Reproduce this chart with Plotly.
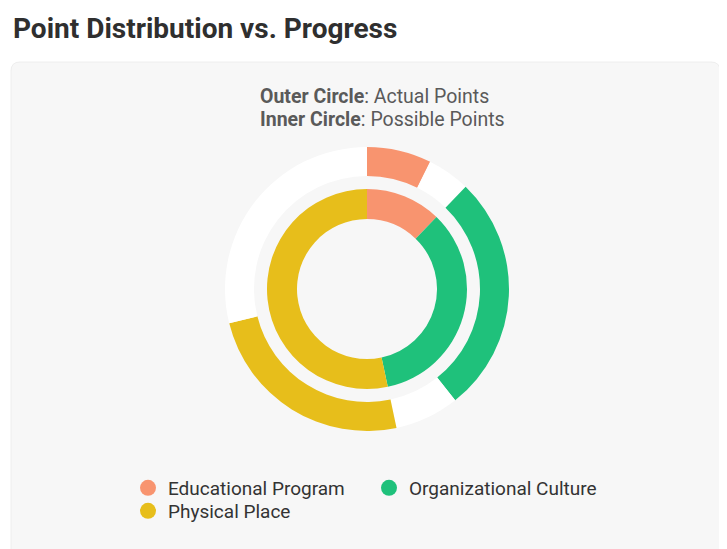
import plotly.graph_objects as go

# ---- data ----
categories = ["Educational Program", "Organizational Culture", "Physical Place"]
possible_points = [11, 31, 48]
actual_points = [6.6, 24.4, 22]
colors = ["#F8946F", "#1FC17B", "#E7BE1B"]
legend_rows = ["legend", "legend", "legend2"]

OFF = 8                     # page body margin
W, H = 727 - OFF, 549 - OFF

def px(x):
    return (x - OFF) / W

def py(y):
    return 1 - (y - OFF) / H

cx, cy = 367, 289          # ring center (screen px)
r_out, r_out_in = 142, 113
r_in, r_in_in = 100, 70

def dom(r):
    return dict(x=[px(cx - r), px(cx + r)], y=[py(cy + r), py(cy - r)])

# outer ring: actual + remainder per category
outer_vals, outer_cols, outer_labels = [], [], []
for c, a, p, col in zip(categories, actual_points, possible_points, colors):
    outer_vals += [a, p - a]
    outer_cols += [col, "#FFFFFF"]
    outer_labels += [c + " (actual)", c + " (remaining)"]

fig = go.Figure()
fig.add_trace(go.Pie(values=outer_vals, labels=outer_labels, marker=dict(colors=outer_cols),
                     sort=False, direction="clockwise", rotation=0, hole=r_out_in / r_out,
                     textinfo="none", showlegend=False, domain=dom(r_out), hoverinfo="label+value"))
fig.add_trace(go.Pie(values=possible_points, labels=categories, marker=dict(colors=colors),
                     sort=False, direction="clockwise", rotation=0, hole=r_in_in / r_in,
                     textinfo="none", showlegend=False, domain=dom(r_in), hoverinfo="label+value"))

for c, col, lg in zip(categories, colors, legend_rows):
    fig.add_trace(go.Scatter(x=[None], y=[None], mode="markers", name=c, legend=lg,
                             marker=dict(symbol="circle", size=19, color=col)))

# card with rounded corners
x0, x1, y0, y1 = px(11), px(720), py(62), -0.05
rx = 9 / W; ry = 9 / H
card = (f"M {x0+rx},{y0} L {x1-rx},{y0} Q {x1},{y0} {x1},{y0-ry} "
        f"L {x1},{y1} L {x0},{y1} L {x0},{y0-ry} Q {x0},{y0} {x0+rx},{y0} Z")

legend_common = dict(orientation="h", xanchor="left", yanchor="top",
                     entrywidth=196, entrywidthmode="pixels", bgcolor="rgba(0,0,0,0)",
                     font=dict(family="Roboto", size=19, color="#333333"),
                     itemsizing="trace", tracegroupgap=0)

fig.update_layout(
    width=W, height=H, margin=dict(l=0, r=0, t=0, b=0),
    paper_bgcolor="#FFFFFF", plot_bgcolor="rgba(0,0,0,0)",
    xaxis=dict(visible=False), yaxis=dict(visible=False),
    font=dict(family="Roboto", color="#333333"),
    shapes=[dict(type="path", path=card, xref="paper", yref="paper", layer="below",
                 fillcolor="#F7F7F7", line=dict(color="#EEEEEE", width=1))],
    annotations=[
        dict(text="<b>Point Distribution vs. Progress</b>", x=px(11), y=py(28),
             xref="paper", yref="paper", xanchor="left", yanchor="middle", showarrow=False,
             font=dict(family="Roboto", size=28, color="#2F2F2F")),
        dict(text="<b>Outer Circle</b>: Actual Points", x=px(258), y=py(96),
             xref="paper", yref="paper", xanchor="left", yanchor="middle", showarrow=False,
             font=dict(family="Roboto", size=19.5, color="#5A5A5A")),
        dict(text="<b>Inner Circle</b>: Possible Points", x=px(258), y=py(120),
             xref="paper", yref="paper", xanchor="left", yanchor="middle", showarrow=False,
             font=dict(family="Roboto", size=19.5, color="#5A5A5A")),
    ],
    legend=dict(x=px(128), y=py(469), **legend_common),
    legend2=dict(x=px(128), y=py(492), **legend_common),
)

fig.write_html("out.html")
